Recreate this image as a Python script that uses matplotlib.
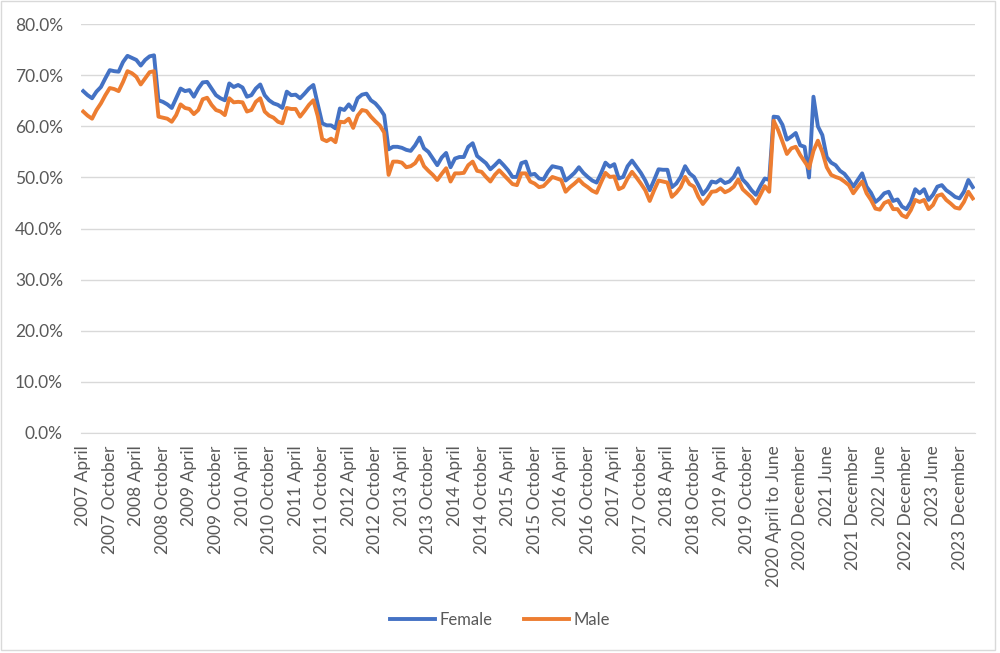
import numpy as np
import matplotlib.pyplot as plt
from matplotlib.ticker import PercentFormatter
from matplotlib.patches import Rectangle

plt.rcParams['font.family'] = ['Lato', 'DejaVu Sans']

# monthly shares (%) from 2007 April to 2024 March, 2020 April-June as one entry
female = [66.9, 66.1, 65.5, 66.8, 67.7, 69.4, 71.0, 70.8, 70.7, 72.6, 73.8, 73.4,
          73.0, 71.9, 73.0, 73.7, 73.9, 65.1, 64.8, 64.3, 63.6, 65.5, 67.4, 66.9,
          67.1, 65.8, 67.4, 68.6, 68.7, 67.4, 66.1, 65.5, 65.1, 68.4, 67.7, 68.1,
          67.6, 65.8, 66.1, 67.4, 68.2, 66.1, 65.1, 64.5, 64.2, 63.6, 66.8, 66.1,
          66.2, 65.5, 66.4, 67.4, 68.1, 64.3, 60.6, 60.2, 60.2, 59.6, 63.5, 63.2,
          64.3, 63.2, 65.5, 66.2, 66.4, 65.1, 64.5, 63.5, 62.2, 55.5, 56.0, 56.0,
          55.8, 55.4, 55.2, 56.3, 57.8, 55.7, 55.0, 53.7, 52.4, 53.9, 54.8, 52.0,
          53.7, 54.0, 54.0, 56.0, 56.7, 54.2, 53.5, 52.8, 51.6, 52.4, 53.3, 52.4,
          51.4, 50.1, 50.1, 52.8, 53.1, 50.5, 50.7, 49.8, 49.6, 51.1, 52.2, 52.0,
          51.8, 49.4, 50.1, 50.9, 52.0, 50.9, 50.1, 49.4, 49.0, 50.8, 52.9, 52.1,
          52.6, 49.8, 50.1, 52.2, 53.3, 52.1, 50.9, 49.4, 47.5, 49.5, 51.6, 51.5,
          51.5, 48.1, 48.8, 50.1, 52.2, 50.8, 50.1, 48.5, 46.7, 47.7, 49.2, 49.0,
          49.6, 48.9, 49.2, 50.1, 51.8, 49.6, 48.7, 47.5, 46.6, 48.3, 49.8, 49.5,
          61.9, 61.8, 60.3, 57.4, 58.0, 58.7, 56.3, 56.0, 50.0, 65.8, 60.0, 58.3,
          54.0, 52.9, 52.4, 51.3, 50.7, 49.6, 48.2, 49.5, 50.8, 48.2, 47.0, 45.2,
          45.9, 46.9, 47.2, 45.4, 45.7, 44.3, 43.8, 45.2, 47.7, 46.9, 47.7, 45.6,
          46.6, 48.2, 48.5, 47.5, 46.9, 46.2, 45.9, 47.2, 49.5, 48.1]
male = [62.9, 62.1, 61.5, 63.2, 64.5, 66.1, 67.5, 67.3, 66.9, 68.7, 70.8, 70.4,
        69.7, 68.2, 69.4, 70.6, 70.8, 61.9, 61.7, 61.5, 60.9, 62.2, 64.3, 63.6,
        63.4, 62.4, 63.2, 65.3, 65.6, 64.2, 63.2, 62.9, 62.2, 65.5, 64.7, 64.8,
        64.7, 62.9, 63.2, 64.8, 65.5, 62.9, 62.1, 61.7, 60.9, 60.6, 63.6, 63.4,
        63.4, 61.9, 63.0, 64.2, 65.1, 62.0, 57.5, 57.1, 57.6, 56.9, 60.9, 60.8,
        61.5, 59.7, 62.1, 63.2, 63.0, 61.9, 61.0, 60.2, 58.8, 50.5, 53.1, 53.1,
        52.9, 52.0, 52.2, 52.8, 54.2, 52.2, 51.3, 50.5, 49.5, 50.7, 51.8, 49.2,
        50.8, 50.8, 50.9, 52.4, 53.1, 51.3, 51.1, 50.1, 49.2, 50.5, 51.4, 50.5,
        49.6, 48.7, 48.5, 50.8, 50.8, 49.2, 48.8, 48.1, 48.3, 49.2, 50.1, 49.8,
        49.5, 47.2, 48.1, 48.8, 49.6, 48.7, 48.1, 47.4, 47.0, 49.0, 50.9, 50.1,
        50.2, 47.7, 48.1, 49.8, 51.1, 50.0, 48.8, 47.5, 45.4, 47.5, 49.4, 49.2,
        49.0, 46.2, 47.0, 48.1, 50.1, 48.7, 48.2, 46.2, 44.8, 45.9, 47.2, 47.3,
        47.9, 47.1, 47.5, 48.2, 49.6, 47.7, 46.9, 46.1, 44.9, 46.6, 48.3, 47.2,
        61.1, 59.3, 57.0, 54.6, 55.7, 56.0, 54.4, 53.1, 51.8, 55.2, 57.2, 55.0,
        52.0, 50.5, 50.1, 49.8, 49.2, 48.5, 46.9, 48.1, 49.2, 46.9, 45.6, 43.9,
        43.7, 45.0, 45.4, 43.8, 43.8, 42.6, 42.2, 43.6, 45.6, 45.2, 45.6, 43.8,
        44.6, 46.4, 46.7, 45.6, 44.9, 44.1, 43.9, 45.2, 47.2, 45.9]

months = ['January', 'February', 'March', 'April', 'May', 'June', 'July',
          'August', 'September', 'October', 'November', 'December']

# category names
cats = []
for y in range(2007, 2025):
    for m in range(12):
        if y == 2007 and m < 3:
            continue
        if y == 2020 and m in (4, 5):
            continue
        if y == 2020 and m == 3:
            cats.append('2020 April to June')
        else:
            cats.append('%d %s' % (y, months[m]))
cats = cats[:len(female)]

x = np.arange(len(cats))

fig = plt.figure(figsize=(10, 6.53), dpi=100)
ax = fig.add_axes([0.081, 0.337, 0.894, 0.626])

ax.plot(x, female, color='#4472C4', lw=2.8, label='Female', solid_joinstyle='round')
ax.plot(x, male, color='#ED7D31', lw=2.8, label='Male', solid_joinstyle='round')

ax.set_xlim(-0.5, len(cats) - 0.5)
ax.set_ylim(0, 80)
ax.set_yticks(np.arange(0, 81, 10))
ax.yaxis.set_major_formatter(PercentFormatter(decimals=1))
ax.set_xticks(x[::6])
ax.set_xticklabels(cats[::6], rotation=90)
ax.grid(axis='y', color='#d9d9d9', lw=1)
ax.set_axisbelow(True)
for s in ['top', 'right', 'left']:
    ax.spines[s].set_visible(False)
ax.spines['bottom'].set_color('#d9d9d9')
ax.tick_params(length=0, labelsize=12.5, colors='#595959')
ax.tick_params(axis='y', pad=13)
ax.tick_params(axis='x', pad=9)

fig.legend(loc='center', bbox_to_anchor=(0.5, 1 - 620 / 653), ncol=2,
           frameon=False, fontsize=12, labelcolor='#595959',
           handlelength=2.7, columnspacing=1.9, handletextpad=0.25)

fig.patches.append(Rectangle((0.001, 0.004), 0.994, 0.994, transform=fig.transFigure,
                             fill=False, edgecolor='#d9d9d9', lw=1))

plt.savefig('out.png', dpi=100)
